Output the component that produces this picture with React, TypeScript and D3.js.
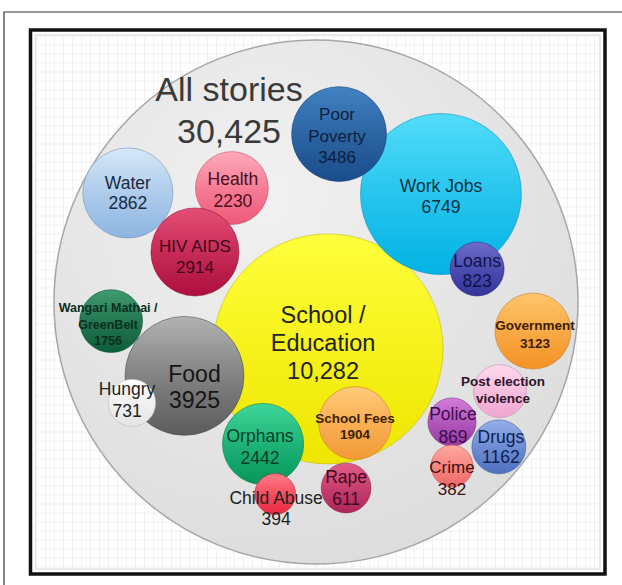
import * as d3 from "d3";

const W = 622;
const H = 585;

// topics and story counts
const topics = [
  "School /\nEducation",
  "Work Jobs",
  "Poor\nPoverty",
  "Water",
  "Health",
  "HIV AIDS",
  "Loans",
  "Wangari Mathai /\nGreenBelt",
  "Food",
  "Hungry",
  "Government",
  "Post election\nviolence",
  "Police",
  "Drugs",
  "Crime",
  "School Fees",
  "Orphans",
  "Child Abuse",
  "Rape",
];

const counts: (number | null)[] = [
  10282, 6749, 3486, 2862, 2230, 2914, 823, 1756, 3925, 731, 3123, null, 869,
  1162, 382, 1904, 2442, 394, 611,
];

const allStories = 30425;

// bubble placement in units of the outer circle radius (-100..100), hand laid out
const layout = [
  { u: 4.6, v: 17.9, r: 43.9, dx: -5, dy: -6, fs: 23.5, lh: 28, bold: false },
  { u: 47.7, v: -41.2, r: 30.7, dx: 0, dy: 2.5, fs: 17.5, lh: 21, bold: false },
  { u: 8.8, v: -64.1, r: 18.1, dx: -2, dy: 1.5, fs: 17, lh: 21.5, bold: false },
  { u: -71.8, v: -41.6, r: 17.2, dx: 0, dy: -0.5, fs: 17.5, lh: 20, bold: false },
  { u: -32.1, v: -43.5, r: 13.9, dx: 1, dy: 1.5, fs: 17.5, lh: 22, bold: false },
  { u: -46.2, v: -19.1, r: 16.8, dx: 0, dy: 4.5, fs: 17, lh: 21, bold: false },
  { u: 61.5, v: -12.6, r: 10.3, dx: 0, dy: 1.5, fs: 17.5, lh: 20, bold: false },
  { u: -78.2, v: 7.3, r: 12.0, dx: -3, dy: 3, fs: 12.5, lh: 16.5, bold: true },
  { u: -50.2, v: 28.2, r: 22.7, dx: 10, dy: 10.5, fs: 23, lh: 26, bold: false },
  { u: -70.2, v: 38.5, r: 9.0, dx: -5, dy: -3, fs: 17.5, lh: 22, bold: false },
  { u: 82.8, v: 11.1, r: 14.5, dx: 2, dy: 3, fs: 13.5, lh: 18, bold: true },
  { u: 70.2, v: 34.0, r: 10.1, dx: 3, dy: -1, fs: 13.5, lh: 17, bold: true },
  { u: 51.9, v: 45.8, r: 9.2, dx: 1, dy: 3.5, fs: 17.5, lh: 23, bold: false },
  { u: 69.8, v: 55.3, r: 10.3, dx: 2, dy: -0.5, fs: 17.5, lh: 20, bold: false },
  { u: 51.9, v: 62.6, r: 8.0, dx: 0, dy: 11.5, fs: 17, lh: 22, bold: false },
  { u: 14.9, v: 46.2, r: 13.9, dx: 0, dy: 3, fs: 13.5, lh: 15.5, bold: true },
  { u: -20.2, v: 54.2, r: 15.5, dx: -3, dy: 2.5, fs: 17.5, lh: 22, bold: false },
  { u: -15.6, v: 73.3, r: 7.8, dx: 1, dy: 14.5, fs: 17.5, lh: 21, bold: false },
  { u: 11.5, v: 71.0, r: 9.5, dx: 0, dy: -0.5, fs: 17.5, lh: 22, bold: false },
];

// gradient top / bottom colour, label colour
const palette = [
  ["#ffff3c", "#eee600", "#222"],
  ["#52dcfa", "#03b2e4", "#0e3040"],
  ["#4282c2", "#1a4c8a", "#0e1e3e"],
  ["#d6e8f9", "#8db4e0", "#1a2a40"],
  ["#ffaabb", "#ee5878", "#4a1020"],
  ["#e44e76", "#ae0f3e", "#3a0818"],
  ["#6c6ccb", "#33339a", "#0e1448"],
  ["#409b6f", "#0e5c39", "#0a2e1e"],
  ["#b2b2b2", "#5c5c5c", "#151515"],
  ["#ffffff", "#e4e4e4", "#222"],
  ["#ffc66c", "#f49226", "#3a2000"],
  ["#ffdaee", "#f1a6d1", "#2e1428"],
  ["#d47cda", "#963aa2", "#3e0c4c"],
  ["#95afe9", "#4e70bf", "#0e1e50"],
  ["#ffaaa2", "#ef6868", "#3e1010"],
  ["#ffca7a", "#f39a36", "#3a2000"],
  ["#3ed69a", "#05965a", "#063e28"],
  ["#ff7c88", "#eb283e", "#222"],
  ["#e45c8a", "#ae2658", "#3e0a20"],
];

const CX = 316;
const CY = 302;
const R = 262;

const x = d3.scaleLinear().domain([-100, 100]).range([CX - R, CX + R]);
const y = d3.scaleLinear().domain([-100, 100]).range([CY - R, CY + R]);
const rad = d3.scaleLinear().domain([0, 100]).range([0, R]);

const fmt = (v: number) => (v >= 10000 ? d3.format(",")(v) : String(v));

const frame = { x0: 30.5, y0: 30, x1: 605, y1: 574 };
const gridStep = 9;

export default function App() {
  const gx = d3.range(frame.x0 + 6, frame.x1 - 4, gridStep);
  const gy = d3.range(frame.y0 + 6, frame.y1 - 4, gridStep);

  return (
    <svg
      width={W}
      height={H}
      style={{ position: "absolute", left: 0, top: 0, background: "#fff" }}
      fontFamily="'Liberation Sans', Arial, sans-serif"
    >
      <defs>
        <radialGradient id="outer" cx="40%" cy="30%" r="75%">
          <stop offset="0%" stopColor="#f1f1f1" />
          <stop offset="100%" stopColor="#dcdcdc" />
        </radialGradient>
        {palette.map((p, i) => (
          <linearGradient key={i} id={`g${i}`} x1="0" y1="0" x2="0" y2="1">
            <stop offset="0%" stopColor={p[0]} />
            <stop offset="55%" stopColor={d3.interpolateRgb(p[0], p[1])(0.6)} />
            <stop offset="100%" stopColor={p[1]} />
          </linearGradient>
        ))}
      </defs>

      {/* outer thin border */}
      <path d={`M4,${H} V12 H${W}`} fill="none" stroke="#333" strokeWidth={1.2} />

      {/* graph paper background */}
      <g stroke="#ededed" strokeWidth={0.7}>
        {gx.map((v, i) => (
          <line key={`x${i}`} x1={v} x2={v} y1={frame.y0 + 6} y2={frame.y1 - 6} />
        ))}
        {gy.map((v, i) => (
          <line key={`y${i}`} y1={v} y2={v} x1={frame.x0 + 6} x2={frame.x1 - 6} />
        ))}
      </g>
      <rect
        x={frame.x0 + 5}
        y={frame.y0 + 5}
        width={frame.x1 - frame.x0 - 10}
        height={frame.y1 - frame.y0 - 10}
        fill="none"
        stroke="#e4e4e4"
        strokeWidth={1.5}
      />

      {/* all stories circle */}
      <circle cx={x(0)} cy={y(0)} r={rad(100)} fill="url(#outer)" stroke="#a6a6a6" strokeWidth={1.5} />

      <g fill="#3a3a3a" fontSize={34} textAnchor="middle">
        <text x={229} y={101}>All stories</text>
        <text x={229} y={143}>{d3.format(",")(allStories)}</text>
      </g>

      {layout.map((b, i) => (
        <circle
          key={i}
          cx={x(b.u)}
          cy={y(b.v)}
          r={rad(b.r)}
          fill={`url(#g${i})`}
          stroke={d3.color(palette[i][1])!.darker(0.6).formatHex()}
          strokeOpacity={0.55}
          strokeWidth={1}
        />
      ))}

      {layout.map((b, i) => {
        const lines = topics[i].split("\n");
        if (counts[i] !== null) lines.push(fmt(counts[i] as number));
        const n = lines.length;
        const cx = x(b.u) + b.dx;
        const cy = y(b.v) + b.dy + b.fs * 0.358;
        return (
          <text
            key={i}
            textAnchor="middle"
            fontSize={b.fs}
            fontWeight={b.bold ? "bold" : "normal"}
            fill={palette[i][2]}
          >
            {lines.map((t, j) => (
              <tspan key={j} x={cx} y={cy + (j - (n - 1) / 2) * b.lh}>
                {t}
              </tspan>
            ))}
          </text>
        );
      })}

      {/* picture frame */}
      <rect
        x={frame.x0}
        y={frame.y0}
        width={frame.x1 - frame.x0}
        height={frame.y1 - frame.y0}
        fill="none"
        stroke="#111"
        strokeWidth={3.5}
      />
    </svg>
  );
}
